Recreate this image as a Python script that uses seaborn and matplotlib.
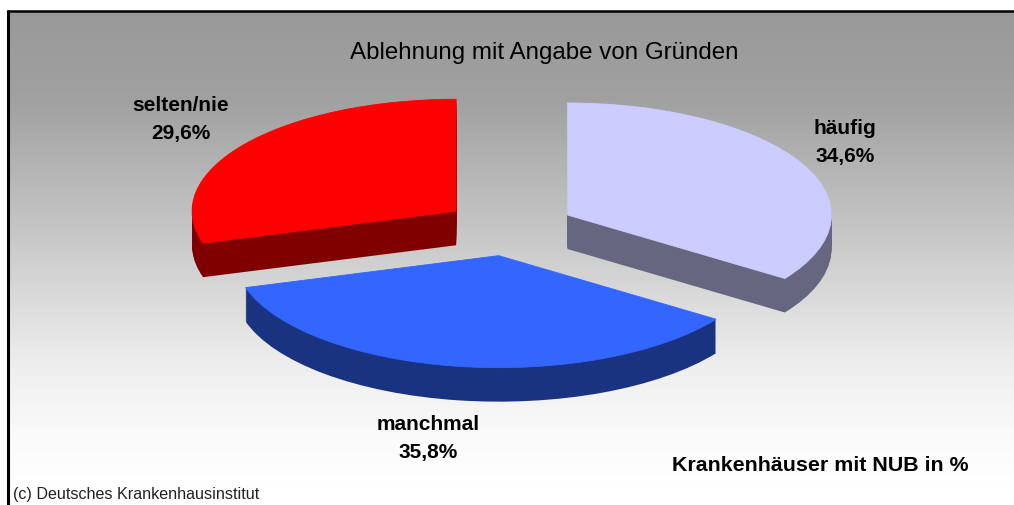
import numpy as np
import matplotlib
matplotlib.use("Agg")
import matplotlib.pyplot as plt
import seaborn as sns

categories = ["häufig", "manchmal", "selten/nie"]
shares = [34.6, 35.8, 29.6]
share_labels = ["34,6%", "35,8%", "29,6%"]
top_colors = ["#ccccff", "#3366ff", "#ff0000"]
side_colors = ["#666680", "#1a3380", "#800000"]

# grey levels of the backdrop read at a few heights
fade_y = [13, 100, 230, 360, 440, 500]
fade_grey = [153, 160, 197, 236, 250, 255]

W, H = 1014, 506
RX, RY = 264.0, 112.0
CX, CY = 509.0, 229.0
DEPTH = 34

sns.set_theme(style="white")
plt.rcParams["font.family"] = ["Liberation Sans", "DejaVu Sans"]

fig = plt.figure(figsize=(W / 100, H / 100), dpi=100, facecolor="white")

# background with the grey to white fade
bg = fig.add_axes([0, 0, 1, 1])
rows = np.arange(13, H)
grad = np.interp(rows, fade_y, fade_grey)[:, None] / 255
bg.imshow(grad, extent=(9, W, H, 13), cmap="gray", vmin=0, vmax=1, aspect="auto", zorder=0)
bg.set_xlim(0, W)
bg.set_ylim(H, 0)
bg.axis("off")
bg.plot([8, 8], [11, H], color="black", lw=2.2, zorder=1, solid_capstyle="butt")
bg.plot([7, W], [12, 12], color="black", lw=1.8, zorder=1, solid_capstyle="butt")

# pie axes, squashed so a circle comes out as the flat ellipse
span = 1.5
left = CX - span * RX
bottom = H - (CY + span * RY)
pie_ax = fig.add_axes([left / W, bottom / H, 2 * span * RX / W, 2 * span * RY / H])
pie_ax.patch.set_alpha(0)

for step in range(DEPTH, 0, -1):
    pie_ax.pie(shares, colors=side_colors, startangle=90, counterclock=False,
               explode=[0.25, 0.25, 0.25], center=(0, -step / RY),
               wedgeprops={"linewidth": 0}, frame=False)
wedges, _ = pie_ax.pie(shares, colors=top_colors, startangle=90, counterclock=False,
                       explode=[0.25, 0.25, 0.25], center=(0, 0), frame=False)
for wedge, color in zip(wedges, top_colors):
    wedge.set_edgecolor(color)
    wedge.set_linewidth(0.6)
pie_ax.set_box_aspect(None)
pie_ax.set_aspect("auto")
pie_ax.set_position([left / W, bottom / H, 2 * span * RX / W, 2 * span * RY / H])
pie_ax.set_xlim(-span, span)
pie_ax.set_ylim(-span, span)
pie_ax.axis("off")

# texts on top
txt = fig.add_axes([0, 0, 1, 1])
txt.set_xlim(0, W)
txt.set_ylim(H, 0)
txt.axis("off")
txt.text(544.5, 53, "Ablehnung mit Angabe von Gründen", fontsize=17.4, ha="center", va="center", color="black")
label_pos = [(845, 142), (428, 439), (181, 119)]
for name, val, (x, y) in zip(categories, share_labels, label_pos):
    txt.text(x, y, f"{name}\n{val}", fontsize=15, fontweight="bold", ha="center", va="center",
             linespacing=1.6, color="black")
txt.text(820, 466, "Krankenhäuser mit NUB in %", fontsize=15.4, fontweight="bold", ha="center", va="center", color="black")
txt.text(13, 495, "(c) Deutsches Krankenhausinstitut", fontsize=11.6, ha="left", va="center", color="#222222")

fig.savefig("out.png", dpi=100)
